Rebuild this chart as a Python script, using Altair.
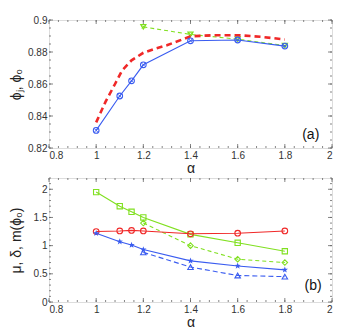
import altair as alt
import pandas as pd

# ---------- data ----------
# panel (a)
alpha_a = [1.0, 1.1, 1.15, 1.2, 1.4, 1.6, 1.8]
phi_J = [0.831, 0.8525, 0.862, 0.872, 0.887, 0.8875, 0.8837]
alpha_a2 = [1.2, 1.4, 1.6, 1.8]
phi_0 = [0.8957, 0.891, 0.888, 0.884]
alpha_red = [1.0, 1.04, 1.08, 1.11, 1.15, 1.2, 1.25, 1.3, 1.4, 1.5, 1.6, 1.7, 1.8]
phi_red = [0.836, 0.849, 0.860, 0.8685, 0.8748, 0.8795, 0.882, 0.8842, 0.8898, 0.8905, 0.8905, 0.8895, 0.8878]

# panel (b)
alpha_b = [1.0, 1.1, 1.15, 1.2, 1.4, 1.6, 1.8]
green_sq = [1.95, 1.70, 1.60, 1.50, 1.20, 1.05, 0.90]
red_circ = [1.25, 1.26, 1.27, 1.26, 1.21, 1.22, 1.26]
blue_star = [1.22, 1.07, 1.01, 0.93, 0.73, 0.64, 0.57]
alpha_b2 = [1.2, 1.4, 1.6, 1.8]
green_dia = [1.40, 1.00, 0.76, 0.70]
blue_tri = [0.88, 0.62, 0.47, 0.45]

x_ticks = [0.8, 1.0, 1.2, 1.4, 1.6, 1.8, 2.0]
x_minor = [round(0.8 + 0.04 * i, 2) for i in range(31)]
ya_ticks = [0.82, 0.84, 0.86, 0.88, 0.9]
ya_minor = [round(0.82 + 0.005 * i, 3) for i in range(17)]
yb_ticks = [0, 0.5, 1, 1.5, 2]
yb_minor = [round(0.1 * i, 1) for i in range(23)]

GREEN = "#80e020"
RED = "#f02828"
BLUE = "#3a5cf0"
FONT = "Liberation Sans"
W = 283
HA = 128
HB = 124

STAR = "M0,-1L0.235,-0.324L0.951,-0.309L0.38,0.124L0.588,0.809L0,0.4L-0.588,0.809L-0.38,0.124L-0.951,-0.309L-0.235,-0.324Z"
XPATH = "M-0.7,-0.7L0.7,0.7M0.7,-0.7L-0.7,0.7"

xscale = alt.Scale(domain=[0.8, 2.0], nice=False, zero=False)

XAXIS = alt.Axis(values=x_ticks, format="~g", title="α", ticks=False, domain=False,
                 grid=False, labelFont=FONT, labelFontSize=10, labelColor="#333",
                 labelPadding=2, labelOverlap=False, titleFont=FONT, titleFontSize=14,
                 titleFontWeight="normal", titleColor="#222", titlePadding=1)


def yaxis(vals, title, ext):
    return alt.Axis(values=vals, format="~g", title=title, ticks=False, domain=False,
                    grid=False, labelFont=FONT, labelFontSize=10, labelColor="#333",
                    labelPadding=2, labelOverlap=False, titleFont=FONT, titleFontSize=14,
                    titleFontWeight="normal", titleColor="#222", titlePadding=4,
                    minExtent=ext, maxExtent=ext)


def make_panel(yscale, yax, H, ymaj, ymin, series_list, label):
    X = lambda: alt.X("a:Q", scale=xscale, axis=XAXIS)
    Y = lambda: alt.Y("v:Q", scale=yscale, axis=yax)
    layers = []
    # inward ticks on all four sides
    for vals, L in ((x_ticks, 4), (x_minor, 2)):
        d = pd.DataFrame({"a": vals})
        base = alt.Chart(d).mark_rule(color="#666", strokeWidth=0.8)
        layers.append(base.encode(x=X(), y=alt.value(H), y2=alt.value(H - L)))
        layers.append(base.encode(x=X(), y=alt.value(0), y2=alt.value(L)))
    for vals, L in ((ymaj, 4), (ymin, 2)):
        d = pd.DataFrame({"v": vals})
        base = alt.Chart(d).mark_rule(color="#666", strokeWidth=0.8)
        layers.append(base.encode(y=Y(), x=alt.value(0), x2=alt.value(L)))
        layers.append(base.encode(y=Y(), x=alt.value(W), x2=alt.value(W - L)))
    for s in series_list:
        d = pd.DataFrame({"a": s["x"], "v": s["y"]})
        line_kw = dict(color=s["color"], strokeWidth=s.get("lw", 1.1))
        if s.get("dash"):
            line_kw["strokeDash"] = s["dash"]
        layers.append(alt.Chart(d).mark_line(**line_kw).encode(x=X(), y=Y()))
        if s.get("shape"):
            pk = dict(shape=s["shape"], color=s["color"], size=s.get("size", 30), opacity=1)
            if s.get("filled"):
                pk["filled"] = True
            else:
                pk.update(filled=False, strokeWidth=1.1)
            layers.append(alt.Chart(d).mark_point(**pk).encode(x=X(), y=Y()))
        if s.get("xmark"):
            layers.append(alt.Chart(d).mark_point(shape=XPATH, filled=False, color=s["color"],
                                                  size=18, strokeWidth=1, opacity=1)
                          .encode(x=X(), y=Y()))
    dl = pd.DataFrame({"a": [label[0]], "v": [label[1]], "t": [label[2]]})
    layers.append(alt.Chart(dl).mark_text(font=FONT, fontSize=14, color="#111")
                  .encode(x=X(), y=Y(), text="t:N"))
    return alt.layer(*layers).properties(width=W, height=H)


# ---------- panel (a) ----------
ya_scale = alt.Scale(domain=[0.82, 0.9], nice=False, zero=False)
series_a = [
    dict(x=alpha_a2, y=phi_0, color=GREEN, shape="triangle-down", dash=[4, 3], size=28, xmark=True),
    dict(x=alpha_red, y=phi_red, color=RED, dash=[6, 4], lw=2.6),
    dict(x=alpha_a, y=phi_J, color=BLUE, shape="circle", size=32, xmark=True),
]
chart_a = make_panel(ya_scale, yaxis(ya_ticks, "ϕⱼ,  ϕ₀", 22), HA, ya_ticks, ya_minor,
                     series_a, (1.91, 0.8283, "(a)"))

# ---------- panel (b) ----------
yb_scale = alt.Scale(domain=[0, 2.2], nice=False, zero=False)
series_b = [
    dict(x=alpha_b, y=green_sq, color=GREEN, shape="square", size=28),
    dict(x=alpha_b2, y=green_dia, color=GREEN, shape="diamond", dash=[4, 3], size=30),
    dict(x=alpha_b, y=red_circ, color=RED, shape="circle", size=32),
    dict(x=alpha_b2, y=blue_tri, color=BLUE, shape="triangle-up", dash=[5, 3], size=30),
    dict(x=alpha_b, y=blue_star, color=BLUE, shape=STAR, filled=True, size=45),
]
chart_b = make_panel(yb_scale, yaxis(yb_ticks, "μ,  δ,  m(ϕ₀)", 22), HB, yb_ticks, yb_minor,
                     series_b, (1.92, 0.29, "(b)"))

chart = alt.vconcat(chart_a, chart_b, spacing=1).properties(
    padding={"left": 0, "top": 6, "right": 5, "bottom": 0}
).configure_view(stroke="#666", strokeWidth=1).configure(background="white")

chart.save("out.html", embed_options={"renderer": "svg", "actions": False})
